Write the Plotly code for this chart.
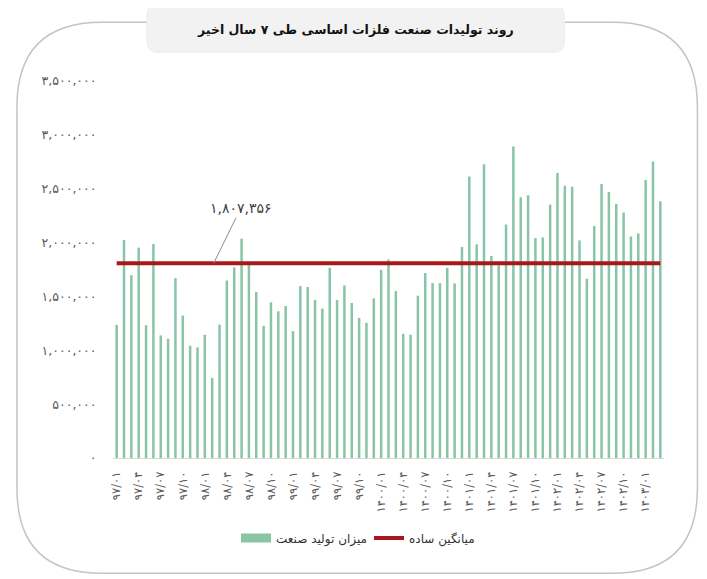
import plotly.graph_objects as go

FA = str.maketrans("0123456789", "۰۱۲۳۴۵۶۷۸۹")
def fa(s):
    return str(s).translate(FA)

# ---- data ----
years = ["97", "98", "99", "1400", "1401", "1402", "1403"]
months = ["01", "02", "03", "04", "05", "06", "07", "08", "09", "10", "11", "12"]
categories = [f"{y}/{m}" for y in years for m in months][:75]

production = [
    1236000, 2023000, 1697000, 1953000, 1233000, 1986000, 1138000, 1107000, 1670000, 1322000,
    1042000, 1027000, 1144000, 744000, 1239000, 1648000, 1769000, 2036000, 1800000, 1541000,
    1227000, 1445000, 1362000, 1411000, 1178000, 1596000, 1587000, 1467000, 1387000, 1766000,
    1467000, 1602000, 1439000, 1301000, 1255000, 1482000, 1748000, 1843000, 1550000, 1153000,
    1144000, 1507000, 1716000, 1624000, 1624000, 1766000, 1621000, 1959000, 2614000, 1983000,
    2728000, 1876000, 1790000, 2168000, 2891000, 2420000, 2439000, 2042000, 2048000, 2352000,
    2645000, 2528000, 2518000, 2020000, 1664000, 2153000, 2543000, 2469000, 2359000, 2279000,
    2057000, 2085000, 2580000, 2752000, 2383000,
]
mean_value = 1807356
mean_line = [mean_value] * len(categories)

y_ticks = [0, 500000, 1000000, 1500000, 2000000, 2500000, 3000000, 3500000]
x_tick_labels = categories[::3]

title_text = "روند تولیدات صنعت فلزات اساسی طی ۷ سال اخیر"
bar_name = "میزان تولید صنعت"
line_name = "میانگین ساده"

# ---- layout geometry (reference pixels; page has an 8px body margin) ----
OFF = 8
W, H = 707 - OFF, 579 - OFF
L, R, T, B = 113, 663.6, 80.7, 457.7
PW, PH = R - L, B - T
def px(x):
    return (x - L) / PW
def py(y):
    return (B - y) / PH
def cx(x):
    return (x - OFF) / W
def cy(y):
    return 1 - (y - OFF) / H

FONT = "DejaVu Sans"
GREEN = "#88c4a5"
RED = "#a8171b"

fig = go.Figure()
fig.add_trace(go.Bar(
    x=categories, y=production, marker_color=GREEN, marker_line_width=0,
    width=0.34, showlegend=False, name=bar_name,
))
# legend proxy for the bars
fig.add_trace(go.Scatter(
    x=[None], y=[None], mode="lines", line=dict(color=GREEN, width=9),
    name=bar_name, showlegend=True,
))
fig.add_trace(go.Scatter(
    x=categories, y=mean_line, mode="lines", line=dict(color=RED, width=4),
    name=line_name,
))

def rrect(x0, y0, x1, y1, r):
    rx, ry = r / PW, r / PH
    X0, X1 = px(x0), px(x1)
    Y0, Y1 = py(y0), py(y1)
    return (f"M {X0+rx},{Y0} L {X1-rx},{Y0} Q {X1},{Y0} {X1},{Y0-ry} "
            f"L {X1},{Y1+ry} Q {X1},{Y1} {X1-rx},{Y1} "
            f"L {X0+rx},{Y1} Q {X0},{Y1} {X0},{Y1+ry} "
            f"L {X0},{Y0-ry} Q {X0},{Y0} {X0+rx},{Y0} Z")

shapes = [
    dict(type="path", xref="paper", yref="paper", path=rrect(17, 22, 697, 573, 85),
         line=dict(color="#c4c4c4", width=1.5), fillcolor="rgba(0,0,0,0)", layer="below"),
    dict(type="path", xref="paper", yref="paper", path=rrect(147, 4, 564, 52, 11),
         line=dict(color="#ececec", width=1), fillcolor="#f2f2f2", layer="above"),
]

annotations = [
    dict(xref="paper", yref="paper", x=px(355.5), y=py(29), text=f"<b>{title_text}</b>",
         showarrow=False, font=dict(family=FONT, size=12.5, color="#111111"),
         xanchor="center", yanchor="middle"),
    dict(x=13.2, y=mean_value, xref="x", yref="y", text=fa("1,807,356"),
         showarrow=True, arrowhead=0, arrowwidth=1, arrowcolor="#8c8c8c",
         ax=27, ay=-55, font=dict(family=FONT, size=14, color="#404040")),
]

fig.update_layout(
    width=W, height=H, autosize=False,
    margin=dict(l=L - OFF, r=707 - R, t=T - OFF, b=579 - B, pad=0),
    paper_bgcolor="white", plot_bgcolor="white",
    font=dict(family=FONT, color="#555555"),
    bargap=0.66,
    shapes=shapes, annotations=annotations,
    legend=dict(orientation="h", xref="container", yref="container",
                x=cx(236), y=cy(538), xanchor="left", yanchor="middle",
                font=dict(family=FONT, size=12, color="#333333"),
                itemwidth=30, entrywidth=88, entrywidthmode="pixels",
                bgcolor="rgba(0,0,0,0)"),
    xaxis=dict(type="category", categoryorder="array", categoryarray=categories,
               range=[-0.5, len(categories) - 0.5],
               tickmode="array", tickvals=x_tick_labels, ticktext=[fa(t) for t in x_tick_labels],
               tickangle=-90, tickfont=dict(family=FONT, size=11.5, color="#595959"),
               showgrid=False, zeroline=False, showline=True, linecolor="#d9d9d9", linewidth=1,
               ticks="outside", ticklen=8, tickcolor="rgba(0,0,0,0)"),
    yaxis=dict(range=[0, 3500000], tickmode="array", tickvals=y_ticks,
               ticktext=[fa(f"{v:,}") for v in y_ticks],
               tickfont=dict(family=FONT, size=12.5, color="#595959"),
               showgrid=False, zeroline=False, showline=False,
               ticks="outside", ticklen=13, tickcolor="rgba(0,0,0,0)"),
)

fig.write_html("out.html")
